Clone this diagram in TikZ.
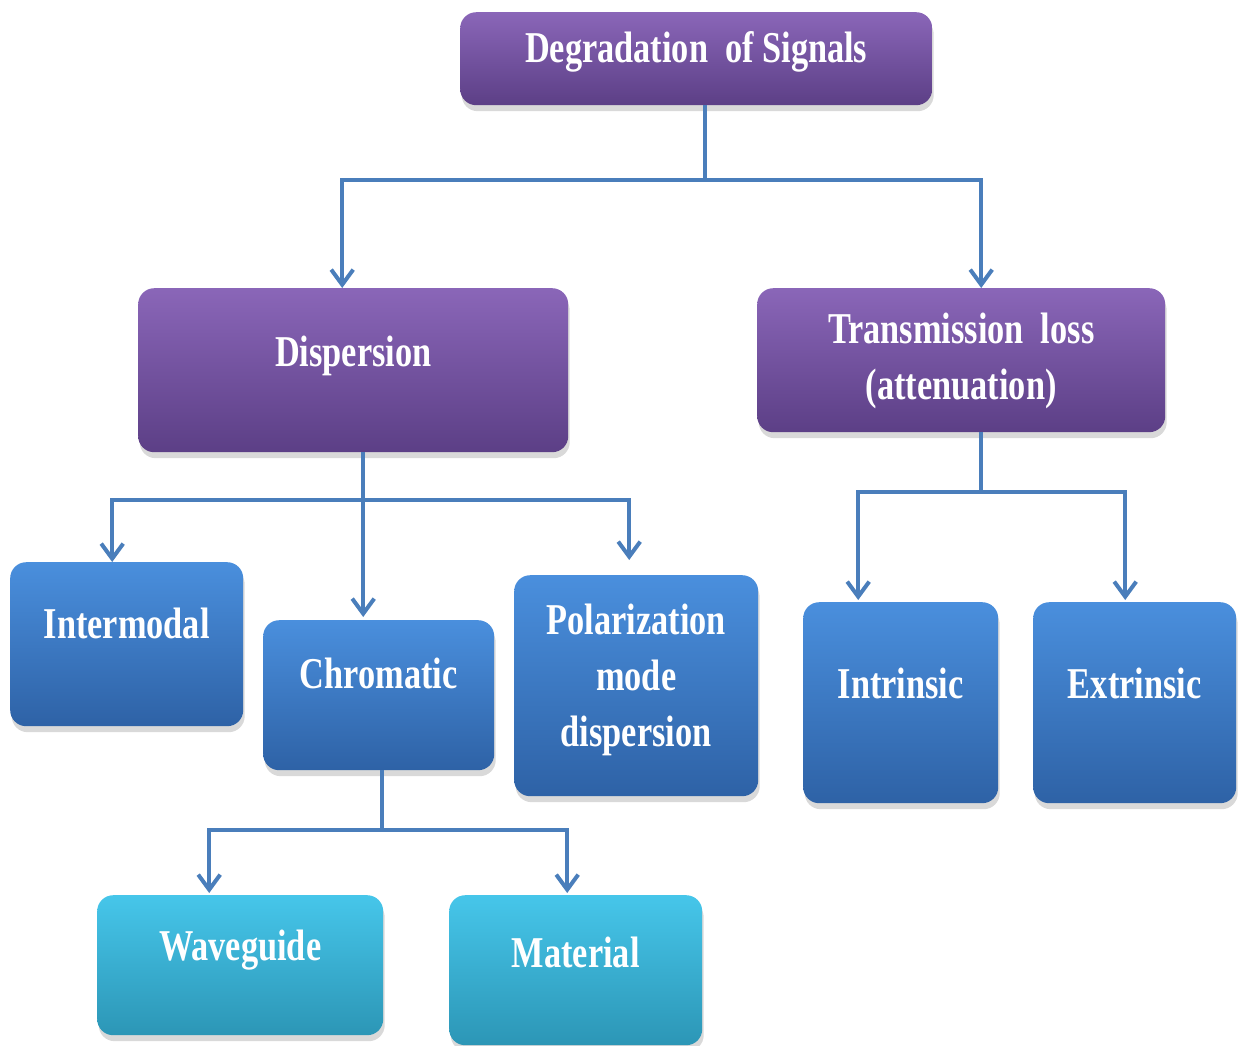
\documentclass[tikz,border=0pt]{standalone}
\usepackage{fontspec}
\newfontfamily\boxfont[FakeStretch=0.78]{Liberation Serif}
\usetikzlibrary{arrows.meta,shadows}
\definecolor{purpT}{HTML}{8A66B8}
\definecolor{purpB}{HTML}{5C3F86}
\definecolor{blueT}{HTML}{4A8FDD}
\definecolor{blueB}{HTML}{2E62A6}
\definecolor{cyanT}{HTML}{46C6EA}
\definecolor{cyanB}{HTML}{2C96B6}
\definecolor{conncol}{HTML}{4A7EBB}
\begin{document}
\begin{tikzpicture}[x=1pt,y=-1pt,
  box/.style={rectangle, rounded corners=16pt, anchor=north west, inner sep=0pt,
    text=white, font=\boxfont\bfseries\fontsize{44}{56}\selectfont,
    drop shadow={shadow xshift=1.5pt, shadow yshift=-6pt, opacity=0.3}},
  purp/.style={box, top color=purpT, bottom color=purpB},
  bluebox/.style={box, top color=blueT, bottom color=blueB},
  cyanbox/.style={box, top color=cyanT, bottom color=cyanB},
  conn/.style={draw=conncol, line width=4pt, -{Straight Barb[length=15pt,width=22pt]}},
  trunk/.style={draw=conncol, line width=4pt}]
\useasboundingbox (0,0) rectangle (1246,1045);

\node[purp, minimum width=472pt, text height=50pt, text depth=43pt] (top) at (460,12) {Degradation\ \ of Signals};
\node[purp, minimum width=430pt, text height=78pt, text depth=86pt] (disp) at (138,288) {Dispersion};
\node[purp, minimum width=408pt, text height=55pt, text depth=89pt] (trans) at (757,288)
  {\begin{tabular}[t]{@{}c@{}}Transmission\ \ loss\\(attenuation)\end{tabular}};

\node[bluebox, minimum width=233pt, text height=76pt, text depth=88pt] (inter) at (10,562) {Intermodal};
\node[bluebox, minimum width=231pt, text height=68pt, text depth=82pt] (chrom) at (263,620) {Chromatic};
\node[bluebox, minimum width=244pt, text height=59pt, text depth=162pt] (polar) at (514,575)
  {\begin{tabular}[t]{@{}c@{}}Polarization\\mode\\dispersion\end{tabular}};
\node[bluebox, minimum width=195pt, text height=96pt, text depth=105pt] (intr) at (803,602) {Intrinsic};
\node[bluebox, minimum width=203pt, text height=96pt, text depth=105pt] (extr) at (1033,602) {Extrinsic};

\node[cyanbox, minimum width=286pt, text height=65pt, text depth=75pt] (wave) at (97,895) {Waveguide};
\node[cyanbox, minimum width=253pt, text height=72pt, text depth=78pt] (mat) at (449,895) {Material};

% connectors
\coordinate (j1) at ([xshift=9pt]top.south |- 0,180);
\draw[trunk] ([xshift=9pt]top.south) -- (j1);
\draw[conn] (j1) -| ([xshift=-11pt]disp.north);
\draw[conn] (j1) -| ([xshift=20pt]trans.north);

\coordinate (j2) at ([xshift=10pt]disp.south |- 0,500);
\draw[trunk] ([xshift=10pt]disp.south) -- (j2);
\draw[conn] (j2) -| ([xshift=-14.5pt]inter.north);
\draw[conn] (j2) -| ([xshift=-15.5pt,yshift=3pt]chrom.north);
\draw[conn] (j2) -| ([xshift=-7pt,yshift=15pt]polar.north);

\coordinate (j3) at ([xshift=20pt]trans.south |- 0,492);
\draw[trunk] ([xshift=20pt]trans.south) -- (j3);
\draw[conn] (j3) -| ([xshift=-42.5pt,yshift=2pt]intr.north);
\draw[conn] (j3) -| ([xshift=-9.5pt,yshift=2pt]extr.north);

\coordinate (j4) at ([xshift=3.5pt]chrom.south |- 0,830);
\draw[trunk] ([xshift=3.5pt]chrom.south) -- (j4);
\draw[conn] (j4) -| ([xshift=-31pt,yshift=2pt]wave.north);
\draw[conn] (j4) -| ([xshift=-8.5pt,yshift=2pt]mat.north);
\end{tikzpicture}
\end{document}
